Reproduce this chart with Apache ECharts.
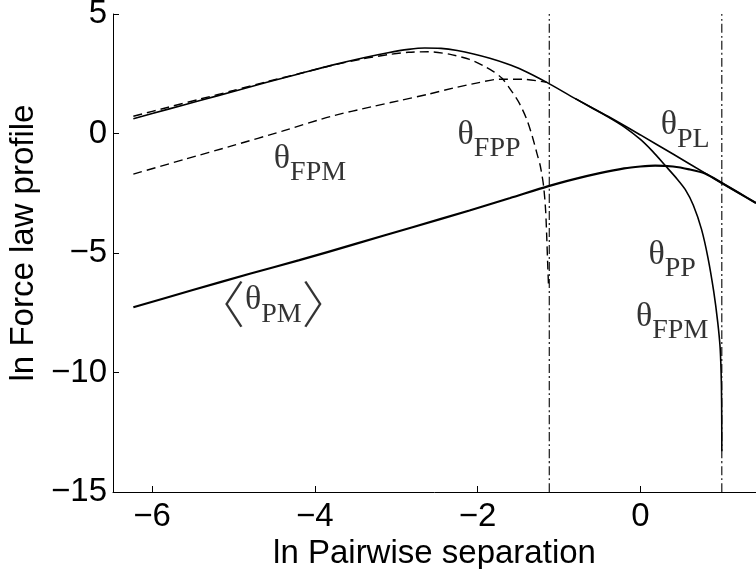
<!DOCTYPE html>
<html>
<head>
<meta charset="utf-8">
<script src="https://cdn.jsdelivr.net/npm/echarts@6/dist/echarts.min.js"></script>
<style>
  html, body { margin: 0; padding: 0; background: #fff; }
  #chart { width: 756px; height: 569px; }
</style>
</head>
<body>
<div id="chart"></div>
<script>
// Force-law profiles against pairwise separation, both on natural-log scales.

const xTicks = [-6, -4, -2, 0];
const yTicks = [-15, -10, -5, 0, 5];

// θ_PL: full power-law force
const plX = [-6.23, -5.8, -5.4, -5.0, -4.6, -4.2, -3.8, -3.4, -3.1, -2.85, -2.65, -2.45, -2.25, -2.05, -1.85, -1.65, -1.45, -1.15, -0.8, -0.4, 0, 0.4, 0.8, 1.2, 1.42];
const plY = [0.62, 1.02, 1.39, 1.76, 2.13, 2.49, 2.85, 3.17, 3.38, 3.52, 3.58, 3.56, 3.47, 3.33, 3.15, 2.93, 2.66, 2.14, 1.46, 0.72, -0.06, -0.86, -1.67, -2.47, -2.91];

// θ_FPP: short-range part with the inner cut-off
const fppX = [-6.23, -5.8, -5.4, -5.0, -4.6, -4.2, -3.8, -3.4, -3.1, -2.85, -2.6, -2.35, -2.1, -1.9, -1.8, -1.7, -1.6, -1.49, -1.4, -1.33, -1.27, -1.23, -1.19, -1.165, -1.15, -1.14, -1.13];
const fppY = [0.72, 1.1, 1.45, 1.8, 2.16, 2.5, 2.84, 3.13, 3.3, 3.4, 3.42, 3.32, 3.1, 2.78, 2.58, 2.31, 1.86, 1.28, 0.62, -0.1, -0.85, -1.36, -2.19, -3.2, -4.42, -5.4, -6.3];

// θ_FPM: long-range part for the inner cut-off
const fpmX = [-6.23, -5.6, -5.0, -4.4, -3.8, -3.3, -2.97, -2.6, -2.3, -2.0, -1.74, -1.45, -1.15];
const fpmY = [-1.7, -1.08, -0.5, 0.1, 0.72, 1.12, 1.37, 1.65, 1.9, 2.12, 2.27, 2.27, 2.14];

// <θ_PM>: averaged particle-mesh force
const pmX = [-6.23, -5.5, -4.8, -4.19, -3.5, -2.8, -2.1, -1.6, -1.13, -0.8, -0.5, -0.2, 0, 0.18, 0.4, 0.6, 0.8, 1.0, 1.2, 1.42];
const pmY = [-7.27, -6.55, -5.87, -5.3, -4.62, -3.92, -3.22, -2.7, -2.2, -1.9, -1.66, -1.46, -1.38, -1.34, -1.38, -1.5, -1.68, -2.07, -2.47, -2.91];

// θ_PP: short-range part with the outer cut-off
const ppX = [-0.8, -0.6, -0.4, -0.2, 0, 0.15, 0.31, 0.45, 0.55, 0.65, 0.75, 0.83, 0.9, 0.95, 0.98, 0.995, 0.999, 1.0];
const ppY = [1.46, 1.08, 0.7, 0.28, -0.25, -0.75, -1.36, -1.9, -2.34, -3.0, -4.0, -5.2, -6.6, -7.9, -9.0, -10.5, -12.0, -13.3];

// ln of the two cut-off radii
const cutoffs = [-1.12, 1.0];

const pairs = (xs, ys) => xs.map((x, i) => [x, ys[i]]);
const minus = v => String(v).replace('-', '\u2212');

// Curve annotations: anchor (data coords) and rich text
const annotations = [
  { x: -4.06, y: -1.10, text: '{t|\u03b8}{s|FPM}' },
  { x: -1.86, y: -0.10, text: '{t|\u03b8}{s|FPP}' },
  { x: -4.51, y: -7.31, text: '{bl|\u3008}{t|\u03b8}{s|PM}{br|\u3009}' },
  { x: 0.55, y: 0.29, text: '{t|\u03b8}{s|PL}' },
  { x: 0.39, y: -5.11, text: '{t|\u03b8}{s|PP}' },
  { x: 0.39, y: -7.72, text: '{t|\u03b8}{s|FPM}' }
];

const solid = { color: '#000', width: 1.6, type: 'solid' };
const dashed = { color: '#000', width: 1.4, type: [9, 5] };
const dashDot = { color: '#000', width: 1.1, type: [9, 3, 2, 3] };

const curve = (data, lineStyle) => ({
  type: 'line', data, lineStyle, showSymbol: false, symbol: 'none',
  smooth: 0.25, silent: true, animation: false, z: 3
});

const sansFont = 'Liberation Sans';
const bracketStyle = {
  fontFamily: "'Noto Sans CJK SC'", fontWeight: 300, fontSize: 50, lineHeight: 50,
  verticalAlign: 'top', padding: [-4, 0, 0, 0], color: '#000'
};

const chart = echarts.init(document.getElementById('chart'), null, { renderer: 'canvas' });

chart.setOption({
  animation: false,
  backgroundColor: '#fff',
  grid: { left: 113, right: 0, top: 14, bottom: 77, containLabel: false, outerBoundsMode: 'none' },
  xAxis: {
    type: 'value', min: -6.48, max: 1.42,
    name: 'ln Pairwise separation', nameLocation: 'middle', nameGap: 35,
    nameTextStyle: { fontFamily: sansFont, fontSize: 33, color: '#000' },
    axisLine: { show: true, onZero: false, lineStyle: { color: '#000', width: 1 } },
    axisTick: { show: true, inside: true, length: 6, customValues: xTicks, lineStyle: { color: '#000' } },
    axisLabel: { customValues: xTicks, margin: 8, fontFamily: sansFont, fontSize: 33, color: '#000', formatter: minus },
    splitLine: { show: false }
  },
  yAxis: {
    type: 'value', min: -15, max: 5, interval: 5,
    name: 'ln Force law profile', nameLocation: 'middle', nameGap: 72,
    nameTextStyle: { fontFamily: sansFont, fontSize: 33, color: '#000', padding: [0, 0, 0, 20] },
    axisLine: { show: true, onZero: false, lineStyle: { color: '#000', width: 1 } },
    axisTick: { show: true, inside: true, length: 6, lineStyle: { color: '#000' } },
    axisLabel: { margin: 6, fontFamily: sansFont, fontSize: 33, color: '#000', formatter: minus },
    splitLine: { show: false }
  },
  series: [
    curve(pairs([cutoffs[0], cutoffs[0]], [-15, 5]), dashDot),
    curve(pairs([cutoffs[1], cutoffs[1]], [-15, 5]), dashDot),
    curve(pairs(plX, plY), solid),
    curve(pairs(fppX, fppY), dashed),
    curve(pairs(fpmX, fpmY), dashed),
    curve(pairs(pmX, pmY), { color: '#000', width: 2.2, type: 'solid' }),
    curve(pairs(ppX, ppY), solid),
    {
      type: 'scatter', symbolSize: 0, silent: true, animation: false, z: 5,
      data: annotations.map(a => ({
        value: [a.x, a.y],
        label: { show: true, position: 'inside', formatter: a.text }
      })),
      label: {
        show: true, position: 'inside', color: '#000',
        rich: {
          t: { fontFamily: 'Liberation Serif', fontSize: 34, lineHeight: 36, verticalAlign: 'top', color: '#000' },
          s: { fontFamily: 'Liberation Serif', fontSize: 28, lineHeight: 28, verticalAlign: 'top', padding: [17, 0, 0, 0], color: '#000' },
          bl: Object.assign({}, bracketStyle, { padding: [-4, 0, 0, -18] }),
          br: Object.assign({}, bracketStyle, { padding: [-4, -18, 0, 0] })
        }
      }
    }
  ]
});
</script>
</body>
</html>
